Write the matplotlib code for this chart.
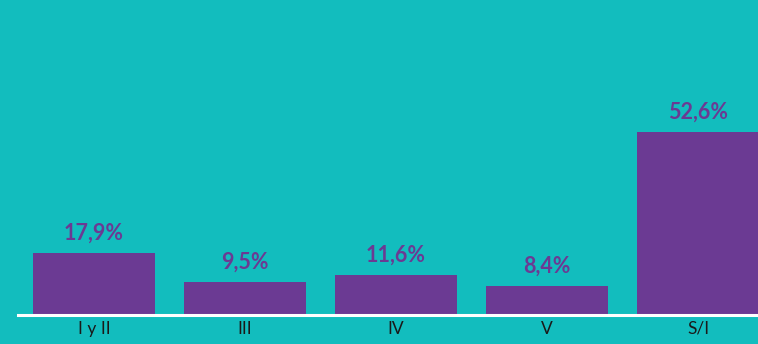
import matplotlib
matplotlib.use("Agg")
import matplotlib.pyplot as plt

categories = ["I y II", "III", "IV", "V", "S/I"]
values = [17.9, 9.5, 11.6, 8.4, 52.6]
value_labels = ["17,9%", "9,5%", "11,6%", "8,4%", "52,6%"]

bg = "#12BDBE"
purple = "#6B3A93"

fig = plt.figure(figsize=(7.58, 3.44), dpi=100, facecolor=bg)
ax = fig.add_axes([18 / 758, 29 / 344, 740 / 758, 315 / 344], facecolor=bg)

x = range(len(categories))
bars = ax.bar(x, values, width=0.808, color=purple, zorder=2)

for rect, lab in zip(bars, value_labels):
    ax.annotate(lab, (rect.get_x() + rect.get_width() / 2, rect.get_height()),
                xytext=(0, 6.5), textcoords="offset points",
                ha="center", va="bottom", color=purple,
                fontsize=15.5, fontweight="bold", family="Lato")

ax.set_xlim(-0.503, 4.397)
ax.set_ylim(0, 315 / 3.48)
ax.set_xticks(list(x))
ax.set_xticklabels(categories, family="Lato", fontsize=12.5, color="#1a1a1a")
ax.tick_params(axis="x", length=0, pad=4)
ax.set_yticks([])
for side in ("top", "right", "left"):
    ax.spines[side].set_visible(False)
ax.spines["bottom"].set_color("white")
ax.spines["bottom"].set_linewidth(2.2)
ax.spines["bottom"].set_zorder(3)

fig.savefig("out.png", dpi=100, facecolor=bg)
